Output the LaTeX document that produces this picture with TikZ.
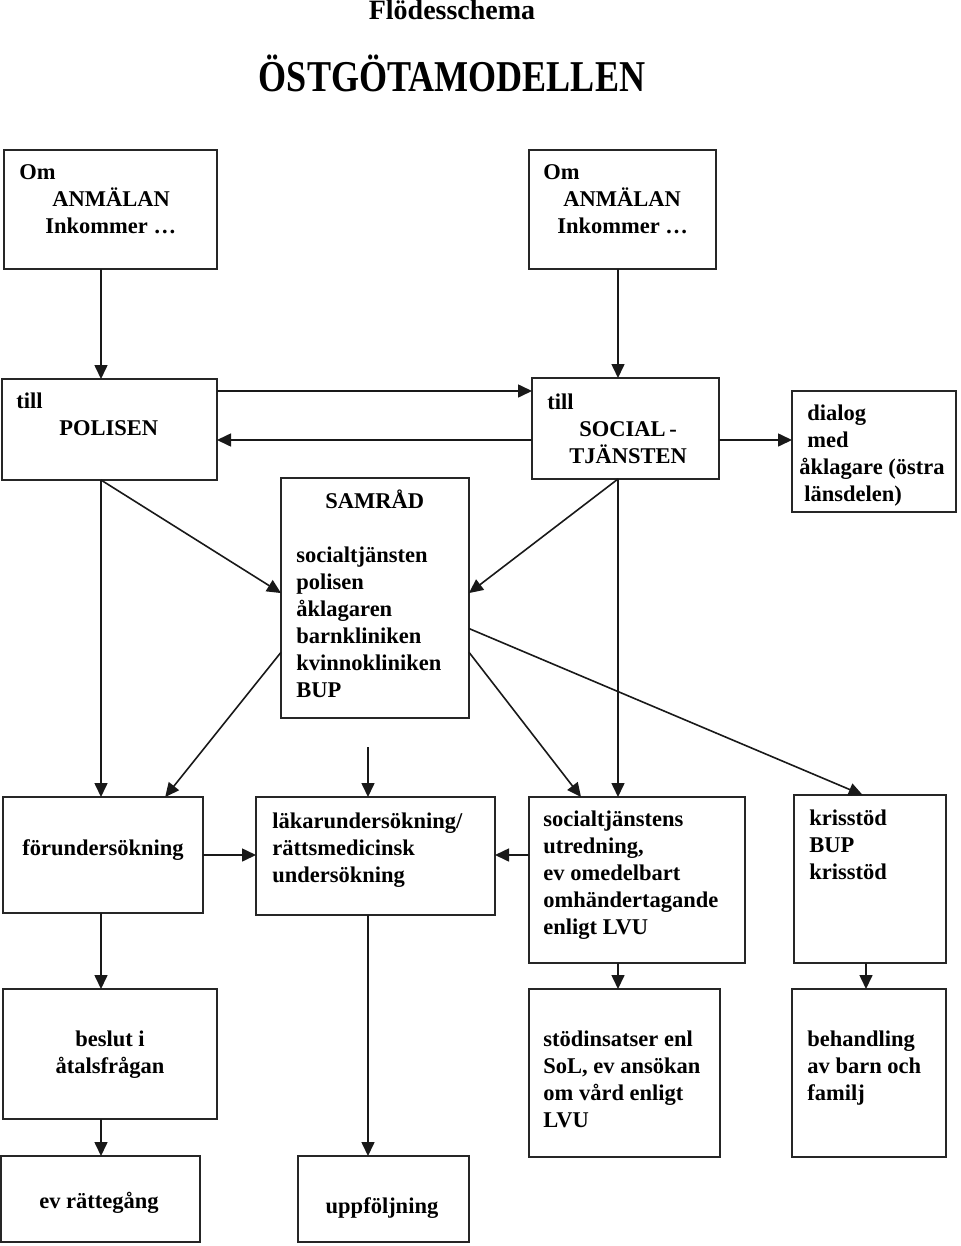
\documentclass[tikz,border=0pt]{standalone}
\usepackage{fontspec}
\setmainfont{Liberation Serif}
\usetikzlibrary{arrows.meta}
\newcommand{\bodyfont}{\bfseries\fontsize{11.25}{13.5}\selectfont}
\tikzset{
	box/.style 2 args={draw=black!85, line width=1pt, minimum width=#1*0.5pt, minimum height=#2*0.5pt, anchor=north west, inner sep=0pt, outer sep=0pt},
	txt/.style={align=left, inner sep=0pt, anchor=base west, font=\bodyfont},
	arr/.style={-{Triangle[length=7pt,width=6.5pt]}, line width=0.8pt, black!90}
}
\begin{document}
\begin{tikzpicture}[x=0.5pt,y=-0.5pt]
		\useasboundingbox (0,0) rectangle (960,1246);
		\node[font=\bfseries\fontsize{14}{16}\selectfont, anchor=base, inner sep=0pt] (title) at (452,20) {Flödesschema};
		\node[font=\bfseries\fontsize{22}{26}\selectfont, anchor=base, inner sep=0pt] (model) at (452,92) {\scalebox{0.82}[1]{ÖSTGÖTAMODELLEN}};
		\node[box={213}{119}] (anm1) at (4,150) {};
		\node[box={187}{119}] (anm2) at (529,150) {};
		\node[box={215}{101}] (polisen) at (2,379) {};
		\node[box={187}{101}] (social) at (532,378) {};
		\node[box={164}{121}] (dialog) at (792,391) {};
		\node[box={188}{240}] (samrad) at (281,478) {};
		\node[box={200}{116}] (forund) at (3,797) {};
		\node[box={239}{118}] (lakar) at (256,797) {};
		\node[box={216}{166}] (socutr) at (529,797) {};
		\node[box={152}{168}] (kris) at (794,795) {};
		\node[box={214}{130}] (beslut) at (3,989) {};
		\node[box={191}{168}] (stod) at (529,989) {};
		\node[box={154}{168}] (behand) at (792,989) {};
		\node[box={199}{86}] (ratt) at (1,1156) {};
		\node[box={171}{86}] (uppf) at (298,1156) {};
		\node[txt] (anm1-t) at (19,234) {Om\\\hspace*{16.5pt}ANMÄLAN\\\hspace*{13pt}Inkommer \dots};
		\node[txt] (anm2-t) at (543,234) {Om\\\hspace*{10pt}ANMÄLAN\\\hspace*{7pt}Inkommer \dots};
		\node[txt] (polisen-t) at (16,435) {till\\\hspace*{21.5pt}POLISEN};
		\node[txt] (social-t) at (547,463) {till\\\hspace*{16pt}SOCIAL\,-\\\hspace*{11pt}TJÄNSTEN};
		\node[txt] (dialog-t) at (799,501) {\hspace*{4pt}dialog\\\hspace*{4pt}med\\åklagare (östra\\\hspace*{2.5pt}länsdelen)};
		\node[txt] (samrad-t) at (296,697) {\hspace*{14.5pt}SAMRÅD\\[13.5pt]socialtjänsten\\polisen\\åklagaren\\barnkliniken\\kvinnokliniken\\BUP};
		\node[txt] (forund-t) at (22,855) {förundersökning};
		\node[txt] (lakar-t) at (272,882) {läkarundersökning/\\rättsmedicinsk\\undersökning};
		\node[txt] (socutr-t) at (543,934) {socialtjänstens\\utredning,\\ev omedelbart\\omhändertagande\\enligt LVU};
		\node[txt] (kris-t) at (809,879) {krisstöd\\BUP\\krisstöd};
		\node[txt, align=center, anchor=base] (beslut-t) at (110,1073) {beslut i\\åtalsfrågan};
		\node[txt] (stod-t) at (543,1127) {stödinsatser enl\\SoL, ev ansökan\\om vård enligt\\LVU};
		\node[txt] (behand-t) at (807,1100) {behandling\\av barn och\\familj};
		\node[txt, anchor=base] (ratt-t) at (99,1208) {ev rättegång};
		\node[txt, anchor=base] (uppf-t) at (382,1213) {uppföljning};
		\coordinate (xA) at (101,0);
		\coordinate (xB) at (618,0);
		\coordinate (xC) at (368,747);
		\coordinate (xD) at (866,0);
		\coordinate (yT) at (0,391);
		\coordinate (yM) at (0,440);
		\foreach \from/\to/\col in {anm1/polisen/xA, anm2/social/xB, polisen/forund/xA, social/socutr/xB, forund/beslut/xA, beslut/ratt/xA, lakar/uppf/xC, socutr/stod/xB, kris/behand/xD}{
			\draw[arr] (\from.south -| \col) -- (\to.north -| \col);
		}
		\draw[arr] (xC) -- (lakar.north -| xC);
		\draw[arr] (polisen.east |- yT) -- (social.west |- yT);
		\draw[arr] (social.west |- yM) -- (polisen.east |- yM);
		\draw[arr] (social.east |- yM) -- (dialog.west |- yM);
		\draw[arr] (polisen.south -| xA) -- (samrad.177);
		\draw[arr] (social.south -| xB) -- (samrad.3);
		\draw[arr] (samrad.210) -- (forund.43);
		\draw[arr] (samrad.-30) -- (socutr.124);
		\draw[arr] (samrad.-18) -- (kris.95);
		\draw[arr] (forund.east) -- (lakar.west |- forund.east);
		\draw[arr] (socutr.west |- forund.east) -- (lakar.east |- forund.east);
	\end{tikzpicture}
\end{document}
